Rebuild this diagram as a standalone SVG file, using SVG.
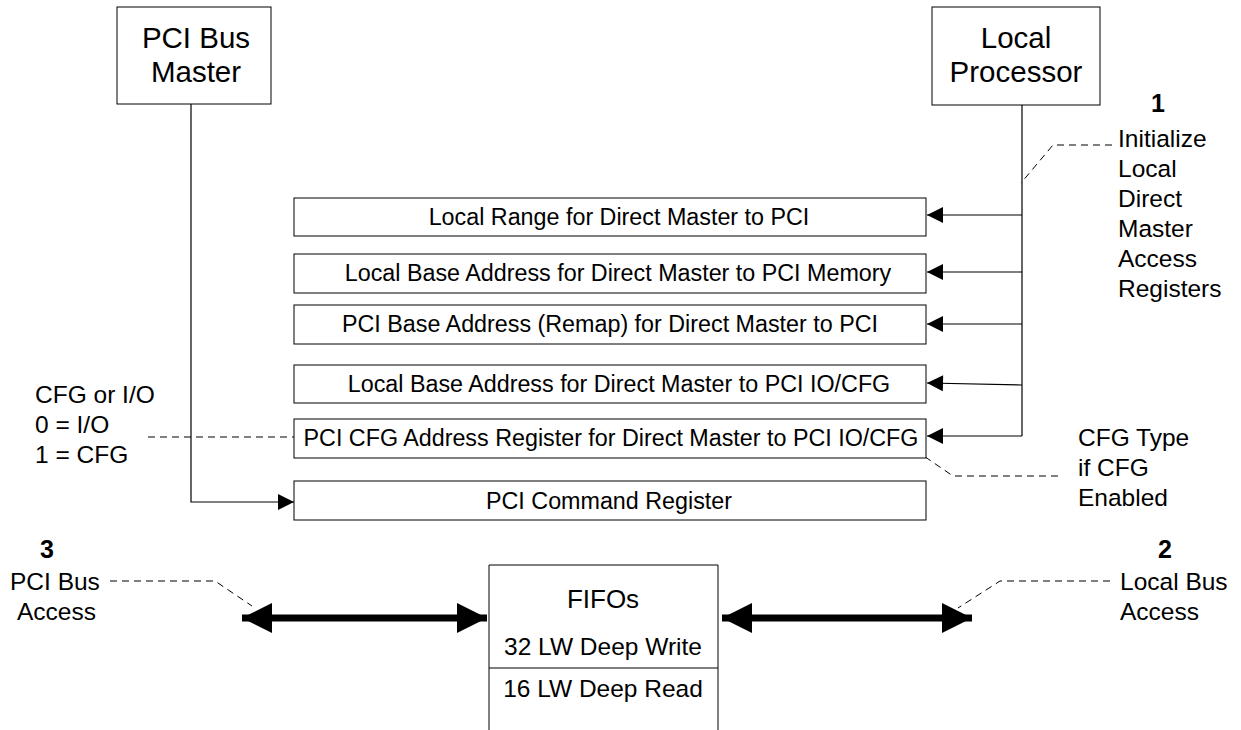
<svg xmlns="http://www.w3.org/2000/svg" width="1241" height="730" viewBox="0 0 1241 730">
<style>
text{font-family:"Liberation Sans",Arial,sans-serif;fill:#000}
.box{fill:#fff;stroke:#000;stroke-width:1}
.title{font-size:29.5px;text-anchor:middle}
.reg{font-size:23.3px;text-anchor:middle}
.lbl{font-size:24.5px}
.num{font-size:25px;font-weight:bold;text-anchor:middle}
.ln{fill:none;stroke:#000;stroke-width:1.2}
.dash{fill:none;stroke:#000;stroke-width:1;stroke-dasharray:7,5}
.bus{fill:none;stroke:#000;stroke-width:7}
</style>
<defs>
<marker id="ah" viewBox="0 0 10 10" refX="10" refY="5" markerWidth="20" markerHeight="16" markerUnits="userSpaceOnUse" orient="auto"><path d="M0,0L10,5L0,10z" fill="#000"/></marker>
<marker id="big" viewBox="0 0 10 10" refX="10" refY="5" markerWidth="30" markerHeight="34" markerUnits="userSpaceOnUse" orient="auto-start-reverse"><path d="M0,0L10,5L0,10z" fill="#000"/></marker>
</defs>
<g id="connectors">
<path class="ln" d="M191,104V502H294" marker-end="url(#ah)"/>
<path class="ln" d="M1022,105V436"/>
<path class="ln" d="M1022,215H927" marker-end="url(#ah)"/>
<path class="ln" d="M1022,272H927" marker-end="url(#ah)"/>
<path class="ln" d="M1022,324H927" marker-end="url(#ah)"/>
<path class="ln" d="M1022,385L927,383" marker-end="url(#ah)"/>
<path class="ln" d="M1022,436H927" marker-end="url(#ah)"/>
<path class="bus" d="M242,618H487" marker-start="url(#big)" marker-end="url(#big)"/>
<path class="bus" d="M722,618H972" marker-start="url(#big)" marker-end="url(#big)"/>
<path class="dash" d="M1112,145H1053L1021,183"/>
<path class="dash" d="M148,437H298"/>
<path class="dash" d="M915,450L953,476H1060"/>
<path class="dash" d="M110,581H215L252,606"/>
<path class="dash" d="M1110,581H1000L958,608"/>
</g>
<g id="pci-bus-master">
<rect class="box" x="117" y="7" width="154" height="97"/>
<text class="title" x="196" y="48">PCI Bus</text>
<text class="title" x="196" y="82">Master</text>
</g>
<g id="local-processor">
<rect class="box" x="932" y="7" width="168" height="98"/>
<text class="title" x="1016" y="48">Local</text>
<text class="title" x="1016" y="82">Processor</text>
</g>
<g id="reg1"><rect class="box" x="294" y="198" width="632" height="38"/><text class="reg" x="619" y="225">Local Range for Direct Master to PCI</text></g>
<g id="reg2"><rect class="box" x="294" y="254" width="632" height="39"/><text class="reg" x="618" y="281">Local Base Address for Direct Master to PCI Memory</text></g>
<g id="reg3"><rect class="box" x="294" y="305" width="632" height="39"/><text class="reg" x="610" y="332">PCI Base Address (Remap) for Direct Master to PCI</text></g>
<g id="reg4"><rect class="box" x="294" y="365" width="632" height="38"/><text class="reg" x="619" y="392">Local Base Address for Direct Master to PCI IO/CFG</text></g>
<g id="reg5"><rect class="box" x="294" y="419" width="632" height="39"/><text class="reg" x="611" y="446">PCI CFG Address Register for Direct Master to PCI IO/CFG</text></g>
<g id="reg6"><rect class="box" x="294" y="481" width="632" height="39"/><text class="reg" x="609" y="509">PCI Command Register</text></g>
<g id="fifos">
<path class="box" d="M489,731V565H718V731"/>
<line x1="489" y1="668" x2="718" y2="668" stroke="#000" stroke-width="1"/>
<text x="603" y="608" style="font-size:26px;text-anchor:middle">FIFOs</text>
<text class="lbl" x="603" y="655" text-anchor="middle">32 LW Deep Write</text>
<text class="lbl" x="603" y="697" text-anchor="middle">16 LW Deep Read</text>
</g>
<g id="note1">
<text class="num" x="1158" y="112">1</text>
<text class="lbl" x="1118" y="147">Initialize</text>
<text class="lbl" x="1118" y="177">Local</text>
<text class="lbl" x="1118" y="207">Direct</text>
<text class="lbl" x="1118" y="237">Master</text>
<text class="lbl" x="1118" y="267">Access</text>
<text class="lbl" x="1118" y="297">Registers</text>
</g>
<g id="note-cfg">
<text class="lbl" x="35" y="403">CFG or I/O</text>
<text class="lbl" x="35" y="433">0 = I/O</text>
<text class="lbl" x="35" y="463">1 = CFG</text>
</g>
<g id="note-cfgtype">
<text class="lbl" x="1078" y="446">CFG Type</text>
<text class="lbl" x="1078" y="476">if CFG</text>
<text class="lbl" x="1078" y="506">Enabled</text>
</g>
<g id="note3">
<text class="num" x="47" y="558">3</text>
<text class="lbl" x="10" y="590">PCI Bus</text>
<text class="lbl" x="17" y="620">Access</text>
</g>
<g id="note2">
<text class="num" x="1165" y="558">2</text>
<text class="lbl" x="1120" y="590">Local Bus</text>
<text class="lbl" x="1120" y="620">Access</text>
</g>
</svg>
